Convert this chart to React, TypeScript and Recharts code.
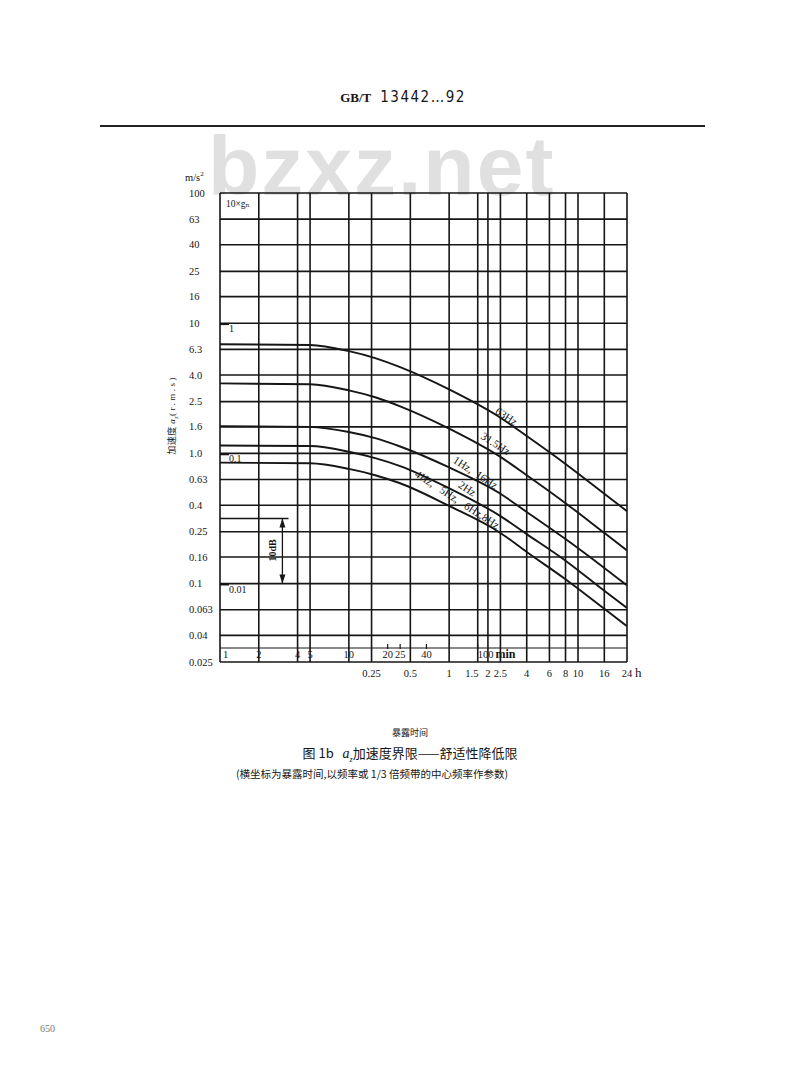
import React from 'react';
import {
  CartesianGrid,
  Line,
  LineChart,
  ReferenceDot,
  ReferenceLine,
  XAxis,
  YAxis,
} from 'recharts';

// exposure time, minutes
const times = [1, 5, 10, 16, 25, 60, 150, 240, 480, 960, 1440];
// a_z limits (m/s², r.m.s) per frequency
const hz63 = [6.9, 6.8, 6.1, 5.4, 4.6, 3.1, 1.88, 1.36, 0.83, 0.49, 0.36];
const hz31_5 = [3.45, 3.4, 3.05, 2.7, 2.3, 1.55, 0.94, 0.68, 0.415, 0.245, 0.18];
const hz1_16 = [1.62, 1.6, 1.46, 1.31, 1.13, 0.78, 0.49, 0.355, 0.22, 0.132, 0.097];
const hz2 = [1.15, 1.14, 1.03, 0.92, 0.8, 0.54, 0.33, 0.24, 0.15, 0.088, 0.065];
const hz4_8 = [0.85, 0.84, 0.76, 0.68, 0.59, 0.395, 0.245, 0.175, 0.108, 0.064, 0.047];

const yTicks = [0.025, 0.04, 0.063, 0.1, 0.16, 0.25, 0.4, 0.63, 1, 1.6, 2.5, 4, 6.3, 10, 16, 25, 40, 63, 100];
const yTickLabels = ['0.025', '0.04', '0.063', '0.1', '0.16', '0.25', '0.4', '0.63', '1.0', '1.6', '2.5', '4.0', '6.3', '10', '16', '25', '40', '63', '100'];

const minuteTicks = [1, 2, 4, 5, 10, 20, 25, 40, 100];
const minuteLabels = ['1', '2', '4', '5', '10', '20', '25', '40', '100'];
const minuteMarks = [20, 25, 40, 100];
const hourTicks = [15, 30, 60, 90, 120, 150, 240, 360, 480, 600, 960, 1440];
const hourLabels = ['0.25', '0.5', '1', '1.5', '2', '2.5', '4', '6', '8', '10', '16', '24'];
const gridMinutes = [1, 2, 4, 5, 10, 15, 30, 60, 100, 120, 150, 240, 360, 480, 600, 960, 1440];

// g_n scale marks (m/s²)
const gMarks = [9.81, 0.981, 0.0981];
const gLabels = ['1', '0.1', '0.01'];

const curveLabels = [
  { text: '63Hz', t: 165, a: 1.89 },
  { text: '31.5Hz', t: 136, a: 1.17 },
  { text: '1Hz,  16Hz', t: 95, a: 0.7 },
  { text: '2Hz', t: 82, a: 0.528 },
  { text: '4Hz,   5Hz,   6Hz,8Hz', t: 68.5, a: 0.435 },
];

const data = times.map((t, i) => ({
  t,
  hz63: hz63[i],
  hz31_5: hz31_5[i],
  hz1_16: hz1_16[i],
  hz2: hz2[i],
  hz4_8: hz4_8[i],
}));

const SERIF = '"Liberation Serif", "DejaVu Serif", serif';
const CJK = '"Noto Sans CJK SC", sans-serif';
const INK = '#161616';
const PLOT_BOTTOM = 662;

function XTick(props: any) {
  const { x, payload } = props;
  const v = payload.value;
  const mi = minuteTicks.indexOf(v);
  if (mi >= 0) {
    const label = minuteLabels[mi];
    return (
      <g>
        {minuteMarks.includes(v) && (
          <line x1={x} x2={x} y1={PLOT_BOTTOM - 18} y2={PLOT_BOTTOM - 13} stroke={INK} strokeWidth={1.2} />
        )}
        {v === 100 ? (
          <text x={x} y={PLOT_BOTTOM - 4} fontSize={10.5} fontFamily={SERIF} fill={INK}>
            {label}
            <tspan dx={2} fontSize={12} fontWeight="bold">min</tspan>
          </text>
        ) : (
          <text
            x={v === 1 ? x + 3 : x}
            y={PLOT_BOTTOM - 4}
            textAnchor={v === 1 ? 'start' : 'middle'}
            fontSize={10.5}
            fontFamily={SERIF}
            fill={INK}
          >
            {label}
          </text>
        )}
      </g>
    );
  }
  const hi = hourTicks.indexOf(v);
  if (hi < 0) return null;
  return (
    <g>
      <text x={x} y={PLOT_BOTTOM + 15} textAnchor="middle" fontSize={10.5} fontFamily={SERIF} fill={INK}>
        {hourLabels[hi]}
      </text>
      {v === 1440 && (
        <text x={x + 8} y={PLOT_BOTTOM + 15} fontSize={13} fontFamily={SERIF} fill={INK}>
          h
        </text>
      )}
    </g>
  );
}

function YTick(props: any) {
  const { y, payload } = props;
  const i = yTicks.indexOf(payload.value);
  return (
    <text x={189} y={y + 3.5} textAnchor="start" fontSize={10.5} fontFamily={SERIF} fill={INK}>
      {yTickLabels[i]}
    </text>
  );
}

function CurveLabel({ cx, cy, text }: any) {
  return (
    <text
      x={cx}
      y={cy}
      textAnchor="middle"
      dominantBaseline="middle"
      fontSize={11}
      fontFamily={SERIF}
      fill={INK}
      style={{ whiteSpace: 'pre' }}
      transform={`rotate(33 ${cx} ${cy})`}
    >
      {text}
    </text>
  );
}

function GMark({ cx, cy, text }: any) {
  return (
    <g>
      <line x1={cx} x2={cx + 9} y1={cy} y2={cy} stroke={INK} strokeWidth={1.6} />
      <text x={cx + 9} y={cy + 8} fontSize={10} fontFamily={SERIF} fill={INK}>
        {text}
      </text>
    </g>
  );
}

function ArrowHead({ cx, cy, dir }: any) {
  const d = dir === 'up'
    ? `M${cx},${cy} L${cx - 3},${cy + 9} L${cx + 3},${cy + 9} Z`
    : `M${cx},${cy} L${cx - 3},${cy - 9} L${cx + 3},${cy - 9} Z`;
  return <path d={d} fill={INK} />;
}

const abs = (style: React.CSSProperties): React.CSSProperties => ({ position: 'absolute', ...style });

export default function App() {
  return (
    <div style={{ position: 'absolute', left: 0, top: 0, width: 800, height: 1082, background: '#fff', overflow: 'hidden' }}>
      <div style={abs({ left: 313, top: 88, width: 180, textAlign: 'center', fontSize: 15, color: INK, whiteSpace: 'nowrap' })}>
        <span style={{ fontFamily: SERIF, fontWeight: 'bold', fontSize: 13 }}>GB/T</span>
        <span style={{ fontFamily: '"Liberation Sans Narrow", "DejaVu Sans Condensed", sans-serif', letterSpacing: 1.5, marginLeft: 9 }}>13442…92</span>
      </div>
      <div style={abs({ left: 100, top: 125, width: 605, height: 2, background: '#222' })} />

      <div
        style={abs({
          left: 208,
          top: 136,
          fontFamily: '"Liberation Sans", Arial, sans-serif',
          fontWeight: 'bold',
          fontSize: 84,
          letterSpacing: 2,
          color: '#e0e0e0',
          lineHeight: '60px',
          whiteSpace: 'nowrap',
        })}
      >
        bzxz.net
      </div>

      <div style={abs({ left: 185, top: 170, fontFamily: SERIF, fontSize: 10.5, color: INK })}>
        m/s<sup style={{ fontSize: 7 }}>2</sup>
      </div>

      <div
        style={abs({
          left: 174 - 60,
          top: 413 - 7,
          width: 120,
          textAlign: 'center',
          transform: 'rotate(-90deg)',
          fontFamily: CJK,
          fontSize: 9,
          letterSpacing: 0.5,
          color: INK,
          whiteSpace: 'nowrap',
          lineHeight: '14px',
        })}
      >
        加速度 <i style={{ fontFamily: SERIF }}>a<sub style={{ fontSize: 6 }}>z</sub></i>
        <span style={{ fontFamily: SERIF, letterSpacing: 2.5 }}>(r.m.s)</span>
      </div>

      <div style={abs({ left: 0, top: 0 })}>
        <LineChart width={800} height={700} data={data} margin={{ top: 193, right: 173, left: 160, bottom: 8 }}>
          <CartesianGrid
            stroke={INK}
            strokeWidth={1.6}
            horizontalValues={yTicks}
            verticalValues={gridMinutes}
          />
          <XAxis
            dataKey="t"
            type="number"
            scale="log"
            domain={[1, 1440]}
            allowDataOverflow
            ticks={[...minuteTicks, ...hourTicks].sort((a, b) => a - b)}
            interval={0}
            tick={<XTick />}
            tickLine={false}
            axisLine={false}
            height={30}
          />
          <YAxis
            type="number"
            scale="log"
            domain={[0.025, 100]}
            allowDataOverflow
            ticks={yTicks}
            interval={0}
            tick={<YTick />}
            tickLine={false}
            axisLine={false}
            width={60}
          />
          <ReferenceLine y={0.032} stroke={INK} strokeWidth={1.1} />
          <ReferenceLine segment={[{ x: 1, y: 0.316 }, { x: 3.4, y: 0.316 }]} stroke={INK} strokeWidth={1.6} />
          <ReferenceLine segment={[{ x: 3.05, y: 0.316 }, { x: 3.05, y: 0.1 }]} stroke={INK} strokeWidth={1.3} />
          <ReferenceDot x={3.05} y={0.316} r={0} shape={(p: any) => <ArrowHead {...p} dir="up" />} />
          <ReferenceDot x={3.05} y={0.1} r={0} shape={(p: any) => <ArrowHead {...p} dir="down" />} />
          <ReferenceDot
            x={2.6}
            y={0.18}
            r={0}
            shape={(p: any) => (
              <text
                x={p.cx}
                y={p.cy}
                textAnchor="middle"
                dominantBaseline="middle"
                fontSize={10}
                fontFamily={SERIF}
                fontWeight="bold"
                fill={INK}
                transform={`rotate(-90 ${p.cx} ${p.cy})`}
              >
                10dB
              </text>
            )}
          />
          <ReferenceDot
            x={1}
            y={98.1}
            r={0}
            shape={(p: any) => (
              <text x={p.cx + 6} y={p.cy + 13} fontSize={9.5} fontFamily={SERIF} fill={INK}>
                10×gₙ
              </text>
            )}
          />
          {gMarks.map((g, i) => (
            <ReferenceDot key={g} x={1} y={g} r={0} shape={(p: any) => <GMark {...p} text={gLabels[i]} />} />
          ))}
          <Line type="monotone" dataKey="hz63" stroke={INK} strokeWidth={1.9} dot={false} isAnimationActive={false} />
          <Line type="monotone" dataKey="hz31_5" stroke={INK} strokeWidth={1.9} dot={false} isAnimationActive={false} />
          <Line type="monotone" dataKey="hz1_16" stroke={INK} strokeWidth={1.9} dot={false} isAnimationActive={false} />
          <Line type="monotone" dataKey="hz2" stroke={INK} strokeWidth={1.9} dot={false} isAnimationActive={false} />
          <Line type="monotone" dataKey="hz4_8" stroke={INK} strokeWidth={1.9} dot={false} isAnimationActive={false} />
          {curveLabels.map((c) => (
            <ReferenceDot key={c.text} x={c.t} y={c.a} r={0} shape={(p: any) => <CurveLabel {...p} text={c.text} />} />
          ))}
        </LineChart>
      </div>

      <div style={abs({ left: 310, top: 726, width: 200, textAlign: 'center', fontFamily: CJK, fontSize: 9, color: INK })}>
        暴露时间
      </div>
      <div style={abs({ left: 250, top: 743, width: 320, textAlign: 'center', fontFamily: CJK, fontSize: 13, color: INK, whiteSpace: 'nowrap' })}>
        图 1b{'\u00a0\u00a0\u00a0'}
        <i style={{ fontFamily: SERIF, fontSize: 14 }}>
          a<sub style={{ fontSize: 8 }}>z</sub>
        </i>
        加速度界限——舒适性降低限
      </div>
      <div style={abs({ left: 212, top: 766, width: 320, textAlign: 'center', fontFamily: CJK, fontSize: 10.5, color: INK, whiteSpace: 'nowrap' })}>
        (横坐标为暴露时间,以频率或 1/3 倍频带的中心频率作参数)
      </div>
      <div style={abs({ left: 40, top: 1023, fontFamily: SERIF, fontSize: 10, color: '#777' })}>650</div>
    </div>
  );
}
